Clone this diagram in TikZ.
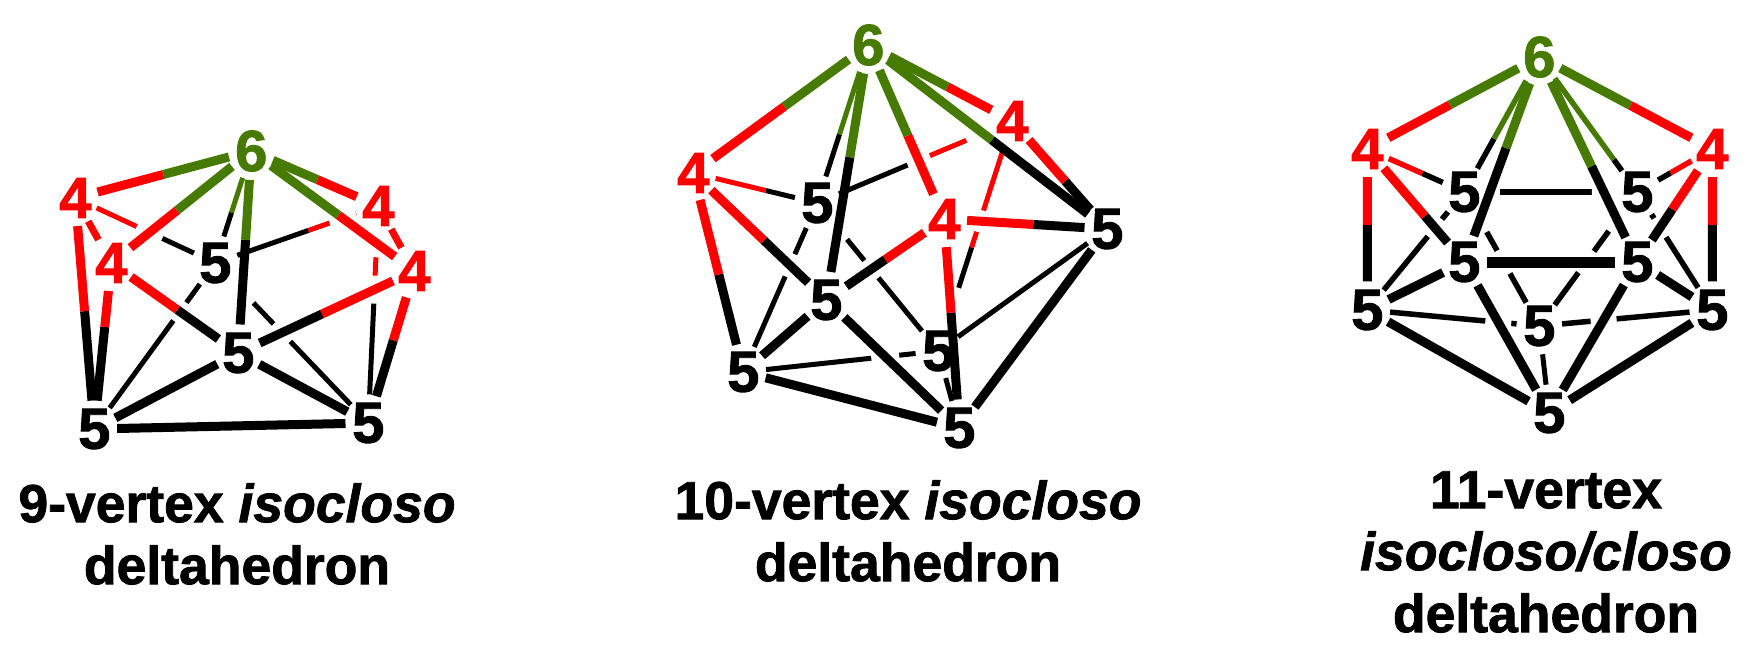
\documentclass[tikz,border=0pt]{standalone}
\usepackage{fontspec}
\setmainfont{Liberation Sans}[BoldFeatures={FakeBold=1.5},BoldItalicFeatures={FakeBold=1.5}]
\usetikzlibrary{calc,shapes.geometric}
\pgfdeclarelayer{back}
\pgfsetlayers{back,main}
\definecolor{vgreen}{RGB}{70,122,0}
\definecolor{vred}{RGB}{255,0,0}
\tikzset{
  x=1pt,y=-1pt,
  vertex/.style={ellipse,inner sep=0pt,outer sep=0pt,minimum width=44pt,minimum height=56pt,xshift=0.3pt,yshift=-1pt,font=\fontsize{58}{58}\selectfont\bfseries},
  v4/.style={vertex,text=vred},
  v5/.style={vertex,text=black},
  v6/.style={vertex,text=vgreen},
  caption/.style={align=center,inner sep=0pt,font=\fontsize{53.5}{62}\selectfont\bfseries},
}
% width, from, to, colour at from, colour at to, split fraction
\newcommand\bond[6]{%
  \draw[line width=#1,color=#5] ($(#2)!#6!(#3)$) -- (#3);
  \draw[line width=#1,color=#4] (#2) -- ($(#2)!#6!(#3)$);}
% plain black bond
\newcommand\kbond[3]{\draw[line width=#1,color=black] (#2) -- (#3);}
% gap in the hidden edge a-b where the front edge c-d passes; half length
\newcommand\hide[5]{%
  \coordinate (xc) at (intersection of #1.center--#2.center and #3.center--#4.center);
  \draw[line width=8pt,color=white] ($(xc)!#5pt!(#1.center)$) -- ($(xc)!#5pt!(#2.center)$);}
\begin{document}
\begin{tikzpicture}
\useasboundingbox (0,0) rectangle (1750,666);
% ---------- 9-vertex ----------
\node[v6] (a6) at (251,150) {6};
\node[v4] (a4l) at (75,197) {4};
\node[v4] (a4i) at (111,262) {4};
\node[v5] (a5b) at (215,262) {5};
\node[v4] (a4b) at (378,205) {4};
\node[v4] (a4r) at (414,270) {4};
\node[v5] (a5c) at (238,352) {5};
\node[v5] (a5l) at (94,428) {5};
\node[v5] (a5r) at (368,422) {5};
\begin{pgfonlayer}{back}
\bond{5pt}{a6}{a5b}{vgreen}{black}{.55}
\bond{5pt}{a4l}{a5b}{vred}{black}{.62}
\bond{5pt}{a5b}{a4b}{black}{vred}{.57}
\bond{5pt}{a4b}{a5r}{vred}{black}{.445}
\kbond{5pt}{a5b}{a5l}
\kbond{5pt}{a5b}{a5r}
\hide{a4l}{a5b}{a6}{a4i}{14}
\hide{a5b}{a4b}{a6}{a4r}{14}
\hide{a4b}{a5r}{a5c}{a4r}{14}
\hide{a4b}{a5r}{a6}{a4r}{14}
\hide{a5b}{a5l}{a4i}{a5c}{11}
\hide{a5b}{a5r}{a6}{a5c}{16}
\hide{a5b}{a5r}{a5c}{a4r}{12}
\end{pgfonlayer}
\bond{9pt}{a6}{a4l}{vgreen}{vred}{.5}
\bond{9pt}{a6}{a4i}{vgreen}{vred}{.53}
\bond{9pt}{a6}{a4r}{vgreen}{vred}{.535}
\bond{9pt}{a6}{a4b}{vgreen}{vred}{.52}
\bond{9pt}{a6}{a5c}{vgreen}{black}{.44}
\bond{9pt}{a4l}{a5l}{vred}{black}{.49}
\bond{9pt}{a4i}{a5l}{vred}{black}{.385}
\bond{9pt}{a4i}{a5c}{vred}{black}{.52}
\bond{9pt}{a5c}{a4r}{black}{vred}{.475}
\bond{9pt}{a4r}{a5r}{vred}{black}{.456}
\bond{7pt}{a4l}{a4i}{vred}{vred}{.5}
\bond{7pt}{a4b}{a4r}{vred}{vred}{.5}
\kbond{9pt}{a5c}{a5l}
\kbond{9pt}{a5c}{a5r}
\kbond{9pt}{a5l}{a5r}
% ---------- 10-vertex ----------
\node[v6] (b6) at (868,44) {6};
\node[v4] (b4l) at (693,172) {4};
\node[v5] (b5b) at (817,202) {5};
\node[v4] (b4b) at (1012,120) {4};
\node[v4] (b4f) at (944,218) {4};
\node[v5] (b5c) at (826,299) {5};
\node[v5] (b5r) at (1107,228) {5};
\node[v5] (b5l) at (743,371) {5};
\node[v5] (b5k) at (938,350) {5};
\node[v5] (b5t) at (959,427) {5};
\begin{pgfonlayer}{back}
\bond{5pt}{b6}{b5b}{vgreen}{black}{.565}
\bond{5pt}{b4l}{b5b}{vred}{black}{.585}
\bond{5pt}{b5b}{b4b}{black}{vred}{.5}
\bond{5pt}{b4b}{b5k}{vred}{black}{.55}
\kbond{5pt}{b5b}{b5l}
\kbond{5pt}{b5b}{b5k}
\kbond{5pt}{b5k}{b5l}
\kbond{5pt}{b5k}{b5r}
\kbond{5pt}{b5k}{b5t}
\hide{b5b}{b4b}{b6}{b4f}{12}
\hide{b5b}{b4b}{b6}{b5r}{18}
\hide{b4b}{b5k}{b4f}{b5r}{11}
\hide{b4b}{b5k}{b4f}{b5t}{25}
\hide{b5b}{b5l}{b4l}{b5c}{12}
\hide{b5b}{b5k}{b6}{b5c}{14}
\hide{b5b}{b5k}{b4f}{b5c}{11}
\hide{b5k}{b5l}{b5c}{b5t}{14}
\end{pgfonlayer}
\bond{9pt}{b6}{b4l}{vgreen}{vred}{.48}
\bond{9pt}{b6}{b4b}{vgreen}{vred}{.55}
\bond{9pt}{b6}{b5r}{vgreen}{black}{.517}
\bond{9pt}{b6}{b4f}{vgreen}{vred}{.52}
\bond{9pt}{b6}{b5c}{vgreen}{black}{.44}
\bond{9pt}{b4l}{b5c}{vred}{black}{.53}
\bond{9pt}{b4l}{b5l}{vred}{black}{.51}
\bond{9pt}{b4b}{b5r}{vred}{black}{.557}
\bond{9pt}{b4f}{b5c}{vred}{black}{.5}
\bond{9pt}{b4f}{b5r}{vred}{black}{.546}
\bond{9pt}{b4f}{b5t}{vred}{black}{.448}
\kbond{9pt}{b5c}{b5t}
\kbond{9pt}{b5c}{b5l}
\kbond{9pt}{b5l}{b5t}
\kbond{9pt}{b5r}{b5t}
% ---------- 11-vertex ----------
\node[v6] (c6) at (1539,56) {6};
\node[v4] (c4l) at (1367,148) {4};
\node[v4] (c4r) at (1712,148) {4};
\node[v5] (c5a) at (1464,191) {5};
\node[v5] (c5d) at (1637,191) {5};
\node[v5] (c5e) at (1464,261) {5};
\node[v5] (c5f) at (1637,261) {5};
\node[v5] (c5l) at (1367,309) {5};
\node[v5] (c5r) at (1712,309) {5};
\node[v5] (c5k) at (1539,325) {5};
\node[v5] (c5t) at (1549,412) {5};
\begin{pgfonlayer}{back}
\bond{5.5pt}{c6}{c5a}{vgreen}{black}{.605}
\bond{5.5pt}{c6}{c5d}{vgreen}{black}{.76}
\bond{5.5pt}{c4l}{c5a}{vred}{black}{.567}
\bond{5.5pt}{c4r}{c5d}{vred}{black}{.555}
\kbond{6.5pt}{c5a}{c5d}
\kbond{5.5pt}{c5a}{c5l}
\kbond{5.5pt}{c5d}{c5r}
\kbond{5.5pt}{c5a}{c5k}
\kbond{5.5pt}{c5d}{c5k}
\kbond{5.5pt}{c5l}{c5k}
\kbond{5.5pt}{c5r}{c5k}
\kbond{5pt}{c5k}{c5t}
\hide{c5a}{c5d}{c6}{c5e}{10}
\hide{c5a}{c5d}{c6}{c5f}{12}
\hide{c5a}{c5l}{c4l}{c5e}{11}
\hide{c5d}{c5r}{c4r}{c5f}{11}
\hide{c5a}{c5k}{c5e}{c5f}{13}
\hide{c5d}{c5k}{c5e}{c5f}{13}
\hide{c5a}{c5k}{c6}{c5e}{14}
\hide{c5d}{c5k}{c6}{c5f}{14}
\hide{c5l}{c5k}{c5e}{c5t}{13}
\hide{c5r}{c5k}{c5f}{c5t}{13}
\end{pgfonlayer}
\bond{9pt}{c6}{c4l}{vgreen}{vred}{.52}
\bond{9pt}{c6}{c4r}{vgreen}{vred}{.526}
\bond{9pt}{c6}{c5e}{vgreen}{black}{.444}
\bond{9pt}{c6}{c5f}{vgreen}{black}{.533}
\bond{9pt}{c4l}{c5e}{vred}{black}{.594}
\bond{9pt}{c4l}{c5l}{vred}{black}{.472}
\bond{9pt}{c4r}{c5r}{vred}{black}{.472}
\bond{9pt}{c4r}{c5f}{vred}{black}{.533}
\kbond{11pt}{c5e}{c5f}
\kbond{9pt}{c5e}{c5l}
\kbond{9pt}{c5f}{c5r}
\kbond{9pt}{c5e}{c5t}
\kbond{9pt}{c5f}{c5t}
\kbond{9pt}{c5l}{c5t}
\kbond{9pt}{c5r}{c5t}
% ---------- captions ----------
\node[caption] (t9) at (237,534) {9-vertex \itshape isocloso\\deltahedron};
\node[caption] (t10) at (908,531) {10-vertex \itshape isocloso\\deltahedron};
\node[caption] (t11) at (1546,552) {11-vertex\\\itshape isocloso/closo\\deltahedron};
\end{tikzpicture}
\end{document}
